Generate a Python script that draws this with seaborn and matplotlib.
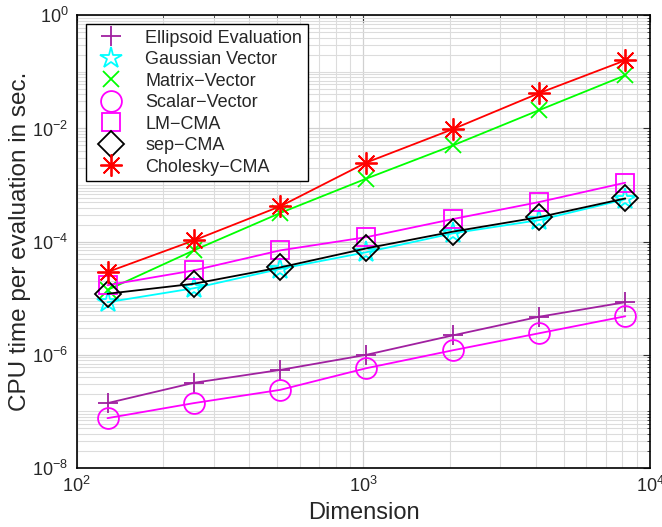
import numpy as np
import pandas as pd
import matplotlib
matplotlib.use("Agg")
import matplotlib.pyplot as plt
from matplotlib.lines import Line2D
from matplotlib.ticker import LogLocator, NullFormatter
import seaborn as sns

dims = [128, 256, 512, 1024, 2048, 4096, 8192]
ellipsoid = [1.4e-7, 3.2e-7, 5.4e-7, 1.0e-6, 2.2e-6, 4.7e-6, 8.5e-6]
gaussian = [8.5e-6, 1.5e-5, 3.3e-5, 6.5e-5, 1.4e-4, 2.4e-4, 5.6e-4]
matrix_vector = [1.4e-5, 7.0e-5, 3.2e-4, 1.3e-3, 5.0e-3, 2.1e-2, 8.7e-2]
scalar_vector = [7.6e-8, 1.4e-7, 2.4e-7, 5.8e-7, 1.2e-6, 2.4e-6, 4.8e-6]
lm_cma = [1.7e-5, 3.1e-5, 7.0e-5, 1.2e-4, 2.5e-4, 5.0e-4, 1.1e-3]
sep_cma = [1.2e-5, 1.8e-5, 3.5e-5, 7.6e-5, 1.5e-4, 2.7e-4, 5.8e-4]
cholesky = [2.9e-5, 1.05e-4, 4.2e-4, 2.5e-3, 9.7e-3, 4.2e-2, 0.16]

names = ["Ellipsoid Evaluation", "Gaussian Vector", "Matrix\u2212Vector",
         "Scalar\u2212Vector", "LM\u2212CMA", "sep\u2212CMA", "Cholesky\u2212CMA"]
values = [ellipsoid, gaussian, matrix_vector, scalar_vector, lm_cma, sep_cma, cholesky]
colors = ["#a020a0", "#00ffff", "#00ff00", "#ff00ff", "#ff00ff", "#000000", "#ff0000"]
markers = ["+", "*", "x", "o", "s", "D", (8, 2, 0)]
msizes = [15, 16, 12, 15, 13, 13, 16]

sns.set_style("white")
plt.rcParams['font.family'] = ['Liberation Sans', 'DejaVu Sans']
plt.rcParams['mathtext.fontset'] = 'custom'
plt.rcParams['mathtext.rm'] = 'Liberation Sans'
plt.rcParams['mathtext.it'] = 'Liberation Sans'

fig = plt.figure(figsize=(6.62, 5.27), dpi=100)
ax = fig.add_axes([0.116, 0.112, 0.866, 0.859])

handles = []
for name, vals, c, m, ms in zip(names, values, colors, markers, msizes):
    df = pd.DataFrame({"dim": dims, "t": vals})
    sns.lineplot(data=df, x="dim", y="t", ax=ax, color=c, lw=1.3, legend=False)
    ax.plot(dims, vals, linestyle="none", marker=m, markersize=ms,
            markerfacecolor="none", markeredgecolor=c, markeredgewidth=1.3)
    handles.append(Line2D([], [], linestyle="none", marker=m, markersize=ms,
                          markerfacecolor="none", markeredgecolor=c,
                          markeredgewidth=1.3, label=name))

ax.set_xscale("log")
ax.set_yscale("log")
ax.set_xlim(1e2, 1e4)
ax.set_ylim(1e-8, 1e0)
ax.set_yticks([1e-8, 1e-6, 1e-4, 1e-2, 1e0])
ax.yaxis.set_minor_locator(LogLocator(base=10, subs=np.arange(1, 10), numticks=100))
ax.yaxis.set_minor_formatter(NullFormatter())
ax.xaxis.set_minor_locator(LogLocator(base=10, subs=np.arange(1, 10), numticks=100))
ax.xaxis.set_minor_formatter(NullFormatter())

ax.grid(True, which="major", color="#d0d0d0", lw=0.9)
ax.grid(True, which="minor", color="#dcdcdc", lw=0.8)
ax.set_axisbelow(True)
for s in ax.spines.values():
    s.set_color("black")
    s.set_linewidth(1.2)
ax.tick_params(which="both", direction="in", top=True, right=True, color="#333333")
ax.tick_params(which="major", length=5, labelsize=13, pad=6)
ax.tick_params(which="minor", length=2.5)

ax.set_xlabel("Dimension", fontsize=17, labelpad=4)
ax.set_ylabel("CPU time per evaluation in sec.", fontsize=17.5, labelpad=1)

leg = ax.legend(handles=handles, loc="upper left", fontsize=13, frameon=True,
                fancybox=False, edgecolor="black", framealpha=1,
                borderaxespad=0.5, handlelength=2.2, handletextpad=0.8,
                labelspacing=0.25, borderpad=0.3)
leg.get_frame().set_linewidth(1.0)

fig.savefig("out.png", dpi=100)
